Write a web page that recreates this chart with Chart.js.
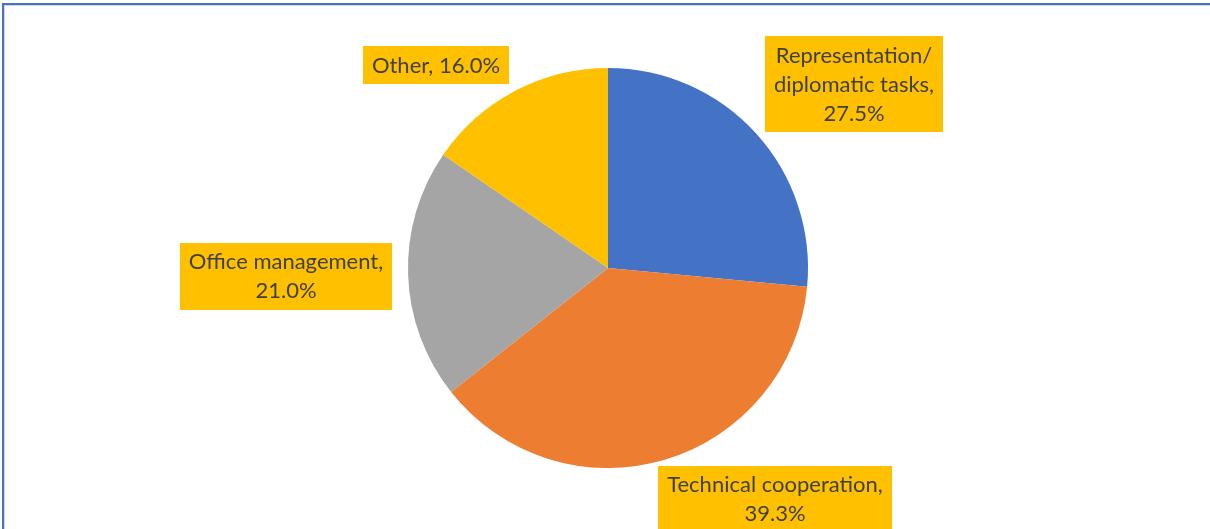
<!DOCTYPE html>
<html>
<head>
<meta charset="utf-8">
<script src="https://cdn.jsdelivr.net/npm/chart.js@4"></script>
<style>
  html, body { margin: 0; padding: 0; background: #fff; }
  #wrap { position: relative; width: 1210px; height: 529px; }
</style>
</head>
<body>
<div id="wrap"><canvas id="pieChart" width="1210" height="529"></canvas></div>
<script>
// data
var categories = ["Representation/\ndiplomatic tasks", "Technical cooperation", "Office management", "Other"];
var shares = [27.5, 39.3, 21.0, 16.0];
var valueOnNewLine = [true, true, true, false];

// style
var sliceColors = ["#4472C4", "#ED7D31", "#A5A5A5", "#FFC000"];
// label box centre, relative to pie centre
var labelOffsets = [[246, -184], [167, 231], [-322, 8], [-172, -203]];

var labelFont = "22px Lato";
var lineH = 29;

function labelLines(i) {
  var name = categories[i] + ",";
  var val = shares[i].toFixed(1) + "%";
  var lines = name.split("\n");
  if (valueOnNewLine[i]) lines.push(val);
  else lines[lines.length - 1] += " " + val;
  return lines;
}

var boxLabels = {
  id: "boxLabels",
  afterDatasetsDraw: function(chart) {
    var ctx = chart.ctx;
    var arc0 = chart.getDatasetMeta(0).data[0];
    var cx = arc0.x, cy = arc0.y;
    ctx.save();
    ctx.font = labelFont;
    ctx.textAlign = "center";
    ctx.textBaseline = "middle";
    for (var i = 0; i < categories.length; i++) {
      var lines = labelLines(i);
      var w = 0;
      lines.forEach(function(l) { w = Math.max(w, ctx.measureText(l).width); });
      var bw = w + 18, bh = lines.length * lineH + 9;
      var bx = cx + labelOffsets[i][0], by = cy + labelOffsets[i][1];
      ctx.fillStyle = "#FFC000";
      ctx.fillRect(Math.round(bx - bw / 2), Math.round(by - bh / 2), Math.round(bw), bh);
      ctx.fillStyle = "#404040";
      for (var j = 0; j < lines.length; j++) {
        ctx.fillText(lines[j], bx, by - bh / 2 + 5 + lineH * (j + 0.5));
      }
    }
    ctx.restore();
  },
  afterDraw: function(chart) {
    // chart frame
    var ctx = chart.ctx;
    ctx.save();
    ctx.fillStyle = "#D9D9D9";
    ctx.fillRect(2, 5, 1208, 1);
    ctx.fillRect(4, 5, 1, 524);
    ctx.fillStyle = "#4472C4";
    ctx.fillRect(2, 3, 1208, 2);
    ctx.fillRect(2, 3, 2, 526);
    ctx.restore();
  }
};

var pieCanvas = document.getElementById("pieChart");
new Chart(pieCanvas, {
  type: "pie",
  data: {
    labels: categories,
    datasets: [{
      data: shares,
      backgroundColor: sliceColors,
      borderWidth: 0
    }]
  },
  options: {
    responsive: false,
    animation: false,
    layout: { padding: { left: 8, right: 2, top: 68, bottom: 61 } },
    plugins: {
      legend: { display: false },
      tooltip: { enabled: false }
    }
  },
  plugins: [boxLabels]
});
</script>
</body>
</html>
